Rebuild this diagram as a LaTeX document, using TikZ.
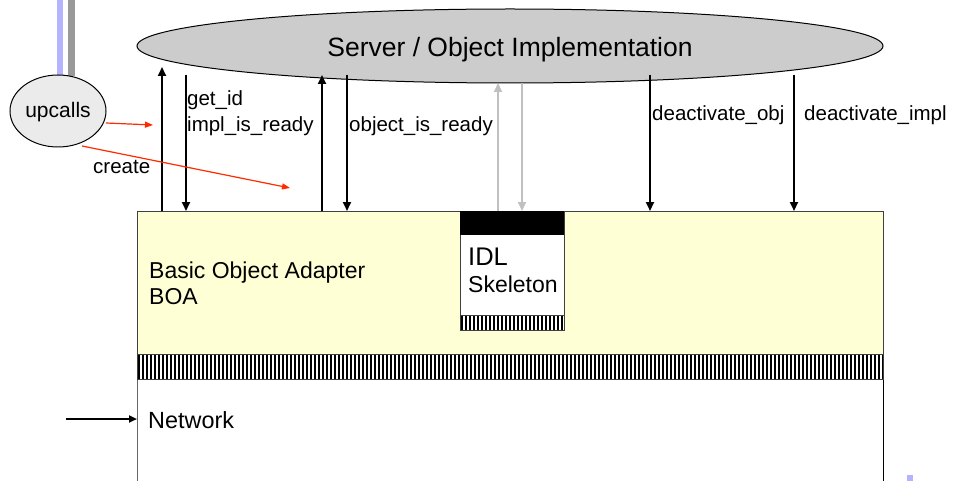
\documentclass[tikz,border=0pt]{standalone}
\usepackage{fontspec}
\setmainfont{Liberation Sans}
\usetikzlibrary{arrows.meta}
\definecolor{boafill}{HTML}{FFFFD5}
\definecolor{srvfill}{HTML}{CCCCCC}
\definecolor{upfill}{HTML}{EBEBEB}
\definecolor{bluebar}{HTML}{B3B3FF}
\definecolor{graybar}{HTML}{999999}
\definecolor{redline}{HTML}{FF2A00}
\definecolor{lightarrow}{HTML}{C0C0C0}
\newcommand{\fsz}[1]{\fontsize{#1}{#1}\selectfont}
\tikzset{
  lbl/.style={inner sep=0pt, anchor=base west, font=\fsz{20.5}},
  callarrow/.style={line width=2pt, -{Triangle[length=9pt,width=8pt]}},
  grayarrow/.style={line width=2pt, draw=lightarrow, -{Triangle[length=9pt,width=8pt]}},
  redarrow/.style={line width=1.2pt, draw=redline, -{Triangle[length=8pt,width=6pt]}},
  boxline/.style={draw=black!75, line width=1pt}
}
\begin{document}
\begin{tikzpicture}[x=1pt,y=-1pt]
\useasboundingbox (0,0) rectangle (955,481);
\clip (0,0) rectangle (955,481);
% decorative bars
\fill[bluebar] (57,-2) rectangle (63,76);
\fill[graybar] (68,-2) rectangle (75,76);
\fill[bluebar] (907,475) rectangle (913,483);
% lower network area
\draw[draw=black!60, line width=1pt] (137,380) -- (137,490);
\draw[draw=black, line width=1pt] (883,380) -- (883,490);
% BOA box
\node[boxline, fill=boafill, minimum width=746pt, minimum height=143pt, anchor=north west, inner sep=0pt] (boa) at (137,211) {};
% hatched band
\fill[white] (137,354) rectangle (883,379);
\foreach \x in {138,142,...,882} { \fill[black] (\x,354) rectangle (\x+2,379); }
\draw[boxline] (137,354) rectangle (883,379);
% skeleton
\node[boxline, fill=white, minimum width=104pt, minimum height=119pt, anchor=north west, inner sep=0pt] (skel) at (460,211) {};
\fill[black] (460,211) rectangle (564,235);
\foreach \x in {461,465,...,561} { \fill[black] (\x,315) rectangle (\x+2,330); }
\draw[boxline] (460,315) -- (564,315);
\node[lbl, font=\fsz{25.5}] (idl) at (468,265) {IDL};
\node[lbl, font=\fsz{23}] (sk) at (468,292) {Skeleton};
% BOA labels
\node[lbl, font=\fsz{23}] (boa1) at (149,278) {Basic Object Adapter};
\node[lbl, font=\fsz{23}] (boa2) at (149,304) {BOA};
\node[lbl, font=\fsz{23.4}] (net) at (148,428) {Network};
\coordinate (netsrc) at (66,419);
\coordinate (netdst) at (137,419);
\draw[line width=2pt, -{Triangle[length=8pt,width=7pt]}] (netsrc) -- (netdst);
% server ellipse
\draw[fill=srvfill, line width=1pt] (510,46) ellipse [x radius=373, y radius=37];
\node[inner sep=0pt, anchor=base, font=\fsz{26.5}] (srv) at (510,56.5) {Server / Object Implementation};
% upcalls
\draw[fill=upfill, line width=1pt] (58,111) ellipse [x radius=48, y radius=36];
\node[inner sep=0pt, anchor=base, font=\fsz{21}] (up) at (58,118) {upcalls};
% coordinates for arrows
\foreach \n/\x/\y in {a/162/67, b/186/75, c/322/75, d/347/75, e/498/83, f/522/83, g/650/75, h/794/75}
  { \coordinate (\n top) at (\x,\y); \coordinate (\n bot) at (\x,211); }
\draw[callarrow] (abot) -- (atop);
\draw[callarrow] (btop) -- (bbot);
\draw[callarrow] (cbot) -- (ctop);
\draw[callarrow] (dtop) -- (dbot);
\draw[grayarrow] (ebot) -- (etop);
\draw[grayarrow] (ftop) -- (fbot);
\draw[callarrow] (gtop) -- (gbot);
\draw[callarrow] (htop) -- (hbot);
% labels
\node[lbl] (l1) at (187,106) {get\_id};
\node[lbl] (l2) at (187,132) {impl\_is\_ready};
\node[lbl] (l3) at (349,132) {object\_is\_ready};
\node[lbl] (l4) at (652,121) {deactivate\_obj};
\node[lbl] (l5) at (804,121) {deactivate\_impl};
% red arrows
\coordinate (r1s) at (106,123);
\coordinate (r1e) at (153,125);
\coordinate (r2s) at (82,146);
\coordinate (r2e) at (290,188);
\draw[redarrow] (r1s) -- (r1e);
\draw[redarrow] (r2s) -- (r2e);
\node[lbl] (cr) at (93,174) {create};
\end{tikzpicture}
\end{document}
